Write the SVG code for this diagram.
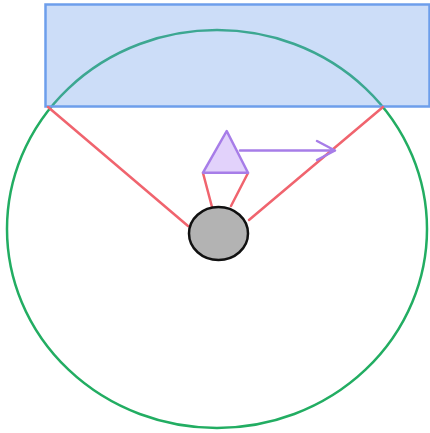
<svg xmlns="http://www.w3.org/2000/svg" width="430" height="433" viewBox="0 0 430 433">
<defs>
<style>
.red{stroke:#f0646e;stroke-width:2.5;fill:none;stroke-linecap:round}
.pur{stroke:#a77de8;stroke-width:2.5;fill:none;stroke-linecap:round;stroke-linejoin:round}
</style>
</defs>
<rect width="430" height="433" fill="#ffffff"/>
<g id="circle">
<ellipse cx="217" cy="229" rx="210" ry="199" fill="none" stroke="#22ad62" stroke-width="2.5"/>
</g>
<g id="panel">
<rect x="45.5" y="4.5" width="384" height="102" fill="#6d9eeb" fill-opacity="0.35" stroke="#6d9eeb" stroke-width="2.5"/>
</g>
<g id="connectors">
<line class="red" x1="48" y1="107" x2="188" y2="226"/>
<line class="red" x1="383" y1="107" x2="249" y2="220"/>
<line class="red" x1="203" y1="173" x2="212" y2="207"/>
<line class="red" x1="248" y1="173" x2="231" y2="206"/>
<path class="pur" d="M240 150.5 H335 M317 141 L335 150.5 L317 160"/>
</g>
<g id="triangle">
<polygon points="226.7,131 203,172.7 248,172.7" fill="#e2d2fb" stroke="#a77de8" stroke-width="2.5" stroke-linejoin="round"/>
</g>
<g id="hub">
<ellipse cx="218.5" cy="233.5" rx="29.5" ry="26.5" fill="#b3b3b3" stroke="#111111" stroke-width="2.5"/>
</g>
</svg>
